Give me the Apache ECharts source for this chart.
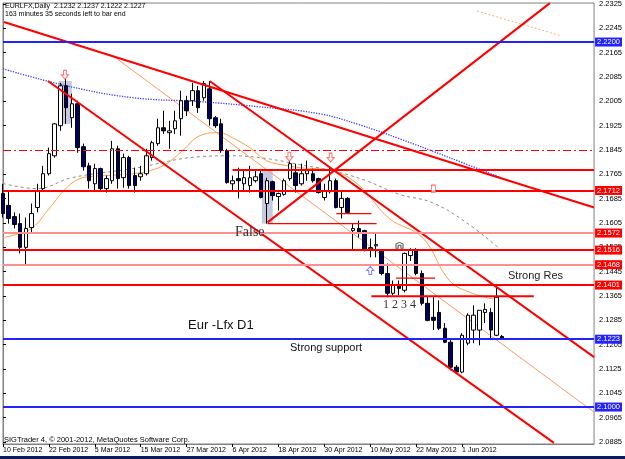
<!DOCTYPE html>
<html><head><meta charset="utf-8">
<script src="https://cdn.jsdelivr.net/npm/echarts@6/dist/echarts.min.js"></script>
<style>html,body{margin:0;padding:0;background:#fff}#c{width:625px;height:459px}</style>
</head><body><div id="c"></div>
<script>
// ---------- data ----------
const dates = ['10 Feb 2012','13 Feb 2012','14 Feb 2012','15 Feb 2012','16 Feb 2012','17 Feb 2012','20 Feb 2012','21 Feb 2012','22 Feb 2012','23 Feb 2012','24 Feb 2012','27 Feb 2012','28 Feb 2012','29 Feb 2012',
'1 Mar 2012','2 Mar 2012','5 Mar 2012','6 Mar 2012','7 Mar 2012','8 Mar 2012','9 Mar 2012','12 Mar 2012','13 Mar 2012','14 Mar 2012','15 Mar 2012','16 Mar 2012','19 Mar 2012','20 Mar 2012','21 Mar 2012','22 Mar 2012','23 Mar 2012','26 Mar 2012','27 Mar 2012','28 Mar 2012','29 Mar 2012','30 Mar 2012',
'2 Apr 2012','3 Apr 2012','4 Apr 2012','5 Apr 2012','6 Apr 2012','9 Apr 2012','10 Apr 2012','11 Apr 2012','12 Apr 2012','13 Apr 2012','16 Apr 2012','17 Apr 2012','18 Apr 2012','19 Apr 2012','20 Apr 2012','23 Apr 2012','24 Apr 2012','25 Apr 2012','26 Apr 2012','27 Apr 2012','30 Apr 2012',
'1 May 2012','2 May 2012','3 May 2012','4 May 2012','7 May 2012','8 May 2012','9 May 2012','10 May 2012','11 May 2012','14 May 2012','15 May 2012','16 May 2012','17 May 2012','18 May 2012','21 May 2012','22 May 2012','23 May 2012','24 May 2012','25 May 2012','28 May 2012','29 May 2012','30 May 2012','31 May 2012',
'1 Jun 2012','4 Jun 2012','5 Jun 2012','6 Jun 2012','7 Jun 2012','8 Jun 2012','11 Jun 2012','12 Jun 2012'];
// [open, close, low, high]
const ohlc = [
[2.1702,2.1636,2.1623,2.1734],[2.1663,2.1620,2.1603,2.1712],[2.1626,2.1600,2.1587,2.1640],[2.1603,2.1525,2.1505,2.1636],
[2.1525,2.1587,2.1466,2.1623],[2.1590,2.1636,2.1570,2.1669],[2.1656,2.1712,2.1640,2.1734],[2.1718,2.1767,2.1712,2.1793],
[2.1767,2.1833,2.1761,2.1853],[2.1826,2.1931,2.1820,2.1934],[2.1925,2.2056,2.1908,2.2066],[2.2056,2.1984,2.1931,2.2079],
[2.1951,2.1997,2.1918,2.2030],[2.1997,2.1853,2.1836,2.2007],[2.1856,2.1790,2.1777,2.1866],[2.1793,2.1744,2.1718,2.1803],
[2.1734,2.1784,2.1712,2.1800],[2.1784,2.1718,2.1712,2.1787],[2.1718,2.1751,2.1705,2.1761],[2.1744,2.1849,2.1734,2.1875],
[2.1849,2.1751,2.1718,2.1859],[2.1754,2.1820,2.1721,2.1833],[2.1820,2.1728,2.1718,2.1826],[2.1761,2.1728,2.1705,2.1787],
[2.1757,2.1767,2.1744,2.1793],[2.1767,2.1826,2.1761,2.1849],[2.1820,2.1869,2.1810,2.1875],[2.1866,2.1918,2.1859,2.1948],
[2.1918,2.1908,2.1898,2.1974],[2.1902,2.1908,2.1849,2.1941],[2.1915,2.1941,2.1898,2.1974],[2.1948,2.2007,2.1892,2.2040],
[2.2007,2.1974,2.1957,2.2023],[2.2007,2.2040,2.1990,2.2066],[2.2040,2.1984,2.1967,2.2056],[2.2017,2.2063,2.2007,2.2072],
[2.2046,2.1948,2.1925,2.2072],[2.1951,2.1925,2.1918,2.1957],[2.1931,2.1843,2.1836,2.1948],[2.1843,2.1738,2.1734,2.1849],
[2.1734,2.1744,2.1712,2.1761],[2.1751,2.1744,2.1686,2.1787],[2.1734,2.1754,2.1712,2.1777],[2.1728,2.1754,2.1705,2.1793],
[2.1744,2.1757,2.1738,2.1777],[2.1767,2.1689,2.1686,2.1777],[2.1669,2.1744,2.1603,2.1754],[2.1741,2.1695,2.1679,2.1744],
[2.1692,2.1702,2.1646,2.1705],[2.1699,2.1744,2.1695,2.1751],[2.1751,2.1800,2.1744,2.1810],[2.1770,2.1728,2.1705,2.1800],
[2.1734,2.1767,2.1728,2.1800],[2.1767,2.1777,2.1744,2.1810],[2.1767,2.1744,2.1738,2.1784],[2.1751,2.1705,2.1702,2.1754],
[2.1689,2.1712,2.1679,2.1734],[2.1708,2.1744,2.1702,2.1787],[2.1744,2.1656,2.1653,2.1751],[2.1656,2.1686,2.1620,2.1712],
[2.1686,2.1640,2.1636,2.1690],[2.1580,2.1587,2.1515,2.1603],[2.1587,2.1574,2.1557,2.1613],[2.1580,2.1515,2.1512,2.1583],
[2.1520,2.1524,2.1492,2.1554],[2.1530,2.1534,2.1492,2.1570],[2.1515,2.1439,2.1433,2.1518],[2.1439,2.1374,2.1361,2.1472],
[2.1374,2.1400,2.1367,2.1416],[2.1397,2.1390,2.1367,2.1416],[2.1384,2.1505,2.1377,2.1508],[2.1498,2.1515,2.1480,2.1522],
[2.1515,2.1439,2.1433,2.1522],[2.1439,2.1341,2.1334,2.1449],[2.1341,2.1285,2.1282,2.1361],[2.1295,2.1285,2.1253,2.1361],
[2.1311,2.1259,2.1253,2.1351],[2.1259,2.1213,2.1210,2.1276],[2.1213,2.1131,2.1121,2.1220],[2.1131,2.1115,2.1111,2.1138],
[2.1115,2.1236,2.1111,2.1243],[2.1210,2.1302,2.1203,2.1308],[2.1253,2.1302,2.1210,2.1334],[2.1253,2.1318,2.1203,2.1318],
[2.1311,2.1321,2.1276,2.1341],[2.1311,2.1253,2.1220,2.1325],[2.1236,2.1361,2.1233,2.1393],[2.1232,2.1227,2.1222,2.1237]];

const priceTicks = [2.2325,2.2245,2.2165,2.2085,2.2005,2.1925,2.1845,2.1765,2.1685,2.1605,2.1525,2.1445,2.1365,2.1285,2.1205,2.1125,2.1045,2.0965,2.0885];
const dateTicks = ['10 Feb 2012','22 Feb 2012','5 Mar 2012','15 Mar 2012','27 Mar 2012','6 Apr 2012','18 Apr 2012','30 Apr 2012','10 May 2012','22 May 2012','1 Jun 2012'];

// horizontal price levels with axis label boxes
const levelPrices = [2.2200, 2.1712, 2.1572, 2.1516, 2.1468, 2.1401, 2.1223, 2.1000];
const dashDotLevel = 2.1845;

// trend lines: [barIndex, price] pairs
const trendA = [[0.17, 2.2266], [103, 2.1656]];
const trendC = [[36.0, 2.2072], [103, 2.1164]];
const trendD = [[7.83, 2.2072], [96.0, 2.0882]];
const trendE = [[46.1, 2.1607], [95.3, 2.2328]];
const thinF  = [[19.5, 2.2150], [103, 2.0983]];
const thinG  = [[82.6, 2.2302], [97.3, 2.2220]];
// short horizontal segments
const seg1 = [[64.2, 2.1364], [92.5, 2.1364]];
const seg2 = [[68.5, 2.1424], [75.3, 2.1424]];
const seg3 = [[58.1, 2.1636], [64.2, 2.1636]];
const seg4 = [[46.1, 2.1603], [65.1, 2.1603]];
const seg5 = [[40.0, 2.1779], [103, 2.1779]];

// moving averages
const maBlue = [[0,2.2112],[11.1,2.2056],[22.6,2.2017],[34.3,2.2004],[44.7,2.1987],[55.2,2.1964],[62.1,2.1928],[69.1,2.1882],[77.8,2.1820],[86.8,2.1754]];
const maGray = [[0,2.1735],[5.9,2.1718],[12.0,2.1754],[22.6,2.1784],[34.3,2.1823],[40.0,2.1826],[45.9,2.1817],[51.7,2.1797],[57.4,2.1777],[63.3,2.1744],[69.1,2.1699],[74.8,2.1672],[80.7,2.1607],[86.5,2.1521]];
const maOrange = [[0,2.1557],[3.0,2.1571],[5.2,2.1590],[8.2,2.1656],[11.1,2.1721],[13.9,2.1754],[18.1,2.1761],[22.6,2.1767],[25.6,2.1777],[28.5,2.1800],[31.3,2.1843],[34.3,2.1892],[37.8,2.1902],[40.0,2.1885],[43.0,2.1853],[45.9,2.1810],[49.4,2.1794],[51.7,2.1787],[57.4,2.1777],[62.1,2.1728],[67.3,2.1620],[73.1,2.1557],[77.8,2.1416],[81.8,2.1374],[86.5,2.1351]];

// markers
const downArrows = [[10.8, 2.2092], [49.9, 2.1823], [57.1, 2.1820]];
const upArrowBlue = [[64.0, 2.1449]];
const smallArch = [[69.1, 2.1532]];
const smallBox = [[75.0, 2.1718]];
const shadeBoxes = [[[9.7, 2.2072], [12.0, 2.1931]], [[45.1, 2.1777], [47.0, 2.1603]]];

// ---------- chart ----------
const FONT = 'Liberation Sans';
const RED = '#ff0000', PINK = '#ff8f8f', BLUE = '#2222ff';
const levelColors = [BLUE, RED, PINK, RED, PINK, RED, BLUE, BLUE];
const cats = dates.concat(Array(16).fill(''));
const chart = echarts.init(document.getElementById('c'), null, {width: 625, height: 459});

const lineS = (data, color, width, type, z) => ({
  type: 'line', xAxisIndex: 1, data, symbol: 'none', silent: true, z: z || 4,
  lineStyle: {color, width, type: type || 'solid'}, animation: false
});
const maS = (data, color, width, type) => Object.assign(lineS(data, color, width, type, 1), {smooth: 0.4});

const option = {
  animation: false,
  backgroundColor: '#ffffff',
  grid: {left: 3, right: 30, top: 2, bottom: 15, show: true, borderColor: '#808080', borderWidth: 1, backgroundColor: '#fff'},
  xAxis: [{
    type: 'category', data: cats, boundaryGap: false,
    axisLine: {lineStyle: {color: '#808080'}},
    axisTick: {interval: (i, v) => dateTicks.indexOf(v) >= 0, length: 3, lineStyle: {color: '#000'}},
    axisLabel: {interval: (i, v) => dateTicks.indexOf(v) >= 0, align: 'left', margin: 3, fontSize: 7, fontFamily: FONT, color: '#000', hideOverlap: false},
    splitLine: {show: false}
  }, {
    type: 'value', min: 0, max: cats.length - 1, show: false
  }],
  yAxis: {
    type: 'value', position: 'right', min: 2.08785, max: 2.23282, scale: true,
    splitLine: {show: false},
    axisLine: {show: true, lineStyle: {color: '#808080'}},
    axisTick: {show: true, customValues: priceTicks, length: 3, lineStyle: {color: '#000'}},
    axisLabel: {customValues: priceTicks, formatter: v => v.toFixed(4), fontSize: 7.5, fontFamily: FONT, color: '#000', margin: 5}
  },
  series: [
    {type: 'line', xAxisIndex: 1, data: [], silent: true, z: 0,
     markArea: {silent: true, itemStyle: {color: '#c5cadf'},
       data: shadeBoxes.map(b => [{coord: b[0]}, {coord: b[1]}])}},
    maS(maBlue, '#3f3fff', 1.3, 'dotted'),
    maS(maGray, '#8c8c8c', 1, [3, 3]),
    maS(maOrange, '#ffa04a', 1, 'solid'),
    lineS(thinF, '#ff9a60', 1, 'solid', 1),
    lineS(thinG, '#ffb070', 1, [2, 2], 1),
    {type: 'candlestick', xAxisIndex: 0, data: ohlc, barWidth: 4, z: 2, silent: true,
     itemStyle: {color: '#ffffff', color0: '#00005e', borderColor: '#000000', borderColor0: '#000000', borderWidth: 1}},
    {type: 'line', xAxisIndex: 1, data: [], silent: true, z: 3,
     markLine: {silent: true, symbol: 'none', animation: false, precision: 4,
       data: levelPrices.map((p, i) => ({
         yAxis: p,
         lineStyle: {color: levelColors[i], width: 2, type: 'solid'},
         label: {show: true, position: 'end', distance: 1, formatter: p.toFixed(4),
           backgroundColor: levelColors[i] === BLUE ? BLUE : RED, color: '#fff',
           fontSize: 7.5, fontFamily: FONT, padding: [1, 2, 0, 2]}
       })).concat([{yAxis: dashDotLevel, lineStyle: {color: RED, width: 1, type: [8, 3, 2, 3]}, label: {show: false}}])
     }},
    lineS(trendA, RED, 2),
    lineS(trendC, RED, 2),
    lineS(trendD, RED, 2),
    lineS(trendE, RED, 2),
    lineS(seg1, RED, 2),
    lineS(seg2, RED, 1.2),
    lineS(seg3, RED, 1.2),
    lineS(seg4, RED, 1.2),
    lineS(seg5, RED, 2),
    {type: 'scatter', xAxisIndex: 1, data: downArrows, z: 6, silent: true,
     symbol: 'path://M3,0 L7,0 L7,5 L10,5 L5,10 L0,5 L3,5 Z', symbolSize: [7, 9],
     itemStyle: {color: '#fff4f4', borderColor: '#ff5050', borderWidth: 1}},
    {type: 'scatter', xAxisIndex: 1, data: upArrowBlue, z: 6, silent: true,
     symbol: 'path://M5,0 L10,5 L7,5 L7,10 L3,10 L3,5 L0,5 Z', symbolSize: [7, 8],
     itemStyle: {color: '#ffffff', borderColor: '#5060ff', borderWidth: 1}},
    {type: 'scatter', xAxisIndex: 1, data: smallArch, z: 6, silent: true,
     symbol: 'path://M0,10 L0,3 L5,0 L10,3 L10,10 L7,10 L7,5 L3,5 L3,10 Z', symbolSize: [7, 6],
     itemStyle: {color: '#ffffff', borderColor: '#333', borderWidth: 1}},
    {type: 'scatter', xAxisIndex: 1, data: smallBox, z: 6, silent: true,
     symbol: 'rect', symbolSize: [4, 7],
     itemStyle: {color: '#ffffff', borderColor: '#ff4040', borderWidth: 1}}
  ],
  graphic: [
    {type: 'text', x: 5, y: 6.5, z: 10, style: {text: 'EURLFX,Daily  2.1232 2.1237 2.1222 2.1227', fontSize: 7, fontFamily: FONT, fill: '#000', verticalAlign: 'middle'}},
    {type: 'text', x: 5, y: 14.5, z: 10, style: {text: '163 minutes 35 seconds left to bar end', fontSize: 7, fontFamily: FONT, fill: '#000', verticalAlign: 'middle'}},
    {type: 'text', x: 4, y: 440, z: 10, style: {text: 'SIGTrader 4, \u00a9 2001-2012, MetaQuotes Software Corp.', fontSize: 7.5, fontFamily: FONT, fill: '#000', verticalAlign: 'middle'}},
    {type: 'text', x: 235, y: 232, z: 10, style: {text: 'False', fontSize: 14, fontFamily: 'Liberation Serif', fill: '#333', verticalAlign: 'middle'}},
    {type: 'text', x: 383, y: 305, z: 10, style: {text: '1 2 3 4', fontSize: 12, fontFamily: 'Liberation Serif', fill: '#333', verticalAlign: 'middle'}},
    {type: 'text', x: 508, y: 276, z: 10, style: {text: 'Strong Res', fontSize: 11, fontFamily: FONT, fill: '#222', verticalAlign: 'middle'}},
    {type: 'text', x: 188, y: 325, z: 10, style: {text: 'Eur -Lfx D1', fontSize: 13, fontFamily: FONT, fill: '#111', verticalAlign: 'middle'}},
    {type: 'text', x: 290, y: 348, z: 10, style: {text: 'Strong support', fontSize: 11, fontFamily: FONT, fill: '#111', verticalAlign: 'middle'}},
    {type: 'rect', z: 10, shape: {x: 0, y: 456, width: 625, height: 3}, style: {fill: '#0c1a5a'}}
  ]
};
chart.setOption(option);
</script></body></html>
